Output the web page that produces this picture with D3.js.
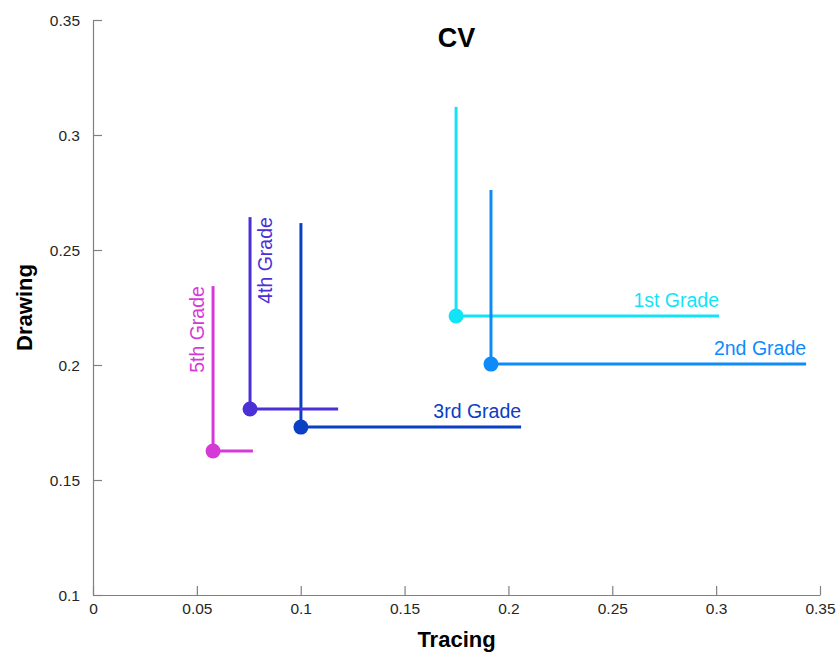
<!DOCTYPE html>
<html>
<head>
<meta charset="utf-8">
<script src="https://cdn.jsdelivr.net/npm/d3@7"></script>
<style>
  html, body { margin: 0; padding: 0; background: #fff; }
  svg { display: block; font-family: "Liberation Sans", Arial, sans-serif; }
</style>
</head>
<body>
<svg id="chart" width="840" height="654"></svg>
<script>
// ---- Data ----
const grades = ["1st Grade", "2nd Grade", "3rd Grade", "4th Grade", "5th Grade"];
const tracing = [0.1748, 0.1916, 0.1001, 0.0756, 0.0578];
const drawing = [0.2213, 0.2004, 0.1730, 0.1809, 0.1626];
const drawingTop = [0.3122, 0.2761, 0.2617, 0.2643, 0.2343];
const tracingRight = [0.3014, 0.3433, 0.2061, 0.1180, 0.0770];
const colors = ["#12e3f7", "#0d8bfa", "#0a40c4", "#4b30d6", "#d53ad6"];
const labelMode = ["h", "h", "h", "vr", "vl"];
const xTicks = [0, 0.05, 0.1, 0.15, 0.2, 0.25, 0.3, 0.35];
const yTicks = [0.1, 0.15, 0.2, 0.25, 0.3, 0.35];

const W = 840, H = 654;
const m = { left: 93, right: 20, top: 20, bottom: 59 };
const svg = d3.select("#chart");

const x = d3.scaleLinear().domain([0, 0.35]).range([m.left, W - m.right]);
const y = d3.scaleLinear().domain([0.1, 0.35]).range([H - m.bottom, m.top]);

const fmt = d => (d === 0 ? "0" : String(+d.toFixed(2)));

// Axes
const gx = svg.append("g").attr("transform", `translate(0,${H - m.bottom})`)
  .call(d3.axisBottom(x).tickValues(xTicks).tickFormat(fmt).tickSizeInner(-9).tickSizeOuter(0).tickPadding(8));
const gy = svg.append("g").attr("transform", `translate(${m.left},0)`)
  .call(d3.axisLeft(y).tickValues(yTicks).tickFormat(fmt).tickSizeInner(-9).tickSizeOuter(0).tickPadding(13));
[gx, gy].forEach(g => {
  g.select(".domain").attr("stroke", "#808080").attr("stroke-width", 1.2);
  g.selectAll(".tick line").attr("stroke", "#808080").attr("stroke-width", 1.2);
  g.selectAll(".tick text").attr("fill", "#262626").style("font-size", "15.5px");
});
gy.selectAll(".tick text").attr("dy", "0.35em");

// Series
const data = grades.map((g, i) => ({
  name: g, tx: tracing[i], dr: drawing[i], top: drawingTop[i], right: tracingRight[i],
  color: colors[i], mode: labelMode[i]
}));

const series = svg.append("g").selectAll("g").data(data).join("g");
series.append("line")
  .attr("x1", d => x(d.tx)).attr("x2", d => x(d.tx))
  .attr("y1", d => y(d.dr)).attr("y2", d => y(d.top))
  .attr("stroke", d => d.color).attr("stroke-width", 3);
series.append("line")
  .attr("x1", d => x(d.tx)).attr("x2", d => x(d.right))
  .attr("y1", d => y(d.dr)).attr("y2", d => y(d.dr))
  .attr("stroke", d => d.color).attr("stroke-width", 3);
series.append("circle")
  .attr("cx", d => x(d.tx)).attr("cy", d => y(d.dr)).attr("r", 7.5)
  .attr("fill", d => d.color);

series.append("text")
  .attr("fill", d => d.color)
  .style("font-size", "19.5px")
  .attr("text-anchor", "end")
  .attr("transform", d => {
    if (d.mode === "h") return `translate(${x(d.right)},${y(d.dr) - 9})`;
    if (d.mode === "vr") return `translate(${x(d.tx) + 22},${y(d.top)}) rotate(-90)`;
    return `translate(${x(d.tx) - 9},${y(d.top)}) rotate(-90)`;
  })
  .text(d => d.name);

// Title & labels
svg.append("text").attr("x", (m.left + W - m.right) / 2).attr("y", 47)
  .attr("text-anchor", "middle").style("font-size", "27px").style("font-weight", "bold")
  .attr("fill", "#000").text("CV");
svg.append("text").attr("x", (m.left + W - m.right) / 2).attr("y", 647)
  .attr("text-anchor", "middle").style("font-size", "22px").style("font-weight", "bold")
  .attr("fill", "#000").text("Tracing");
svg.append("text").attr("transform", `translate(32,${(m.top + H - m.bottom) / 2}) rotate(-90)`)
  .attr("text-anchor", "middle").style("font-size", "22px").style("font-weight", "bold")
  .attr("fill", "#000").text("Drawing");
</script>
</body>
</html>
